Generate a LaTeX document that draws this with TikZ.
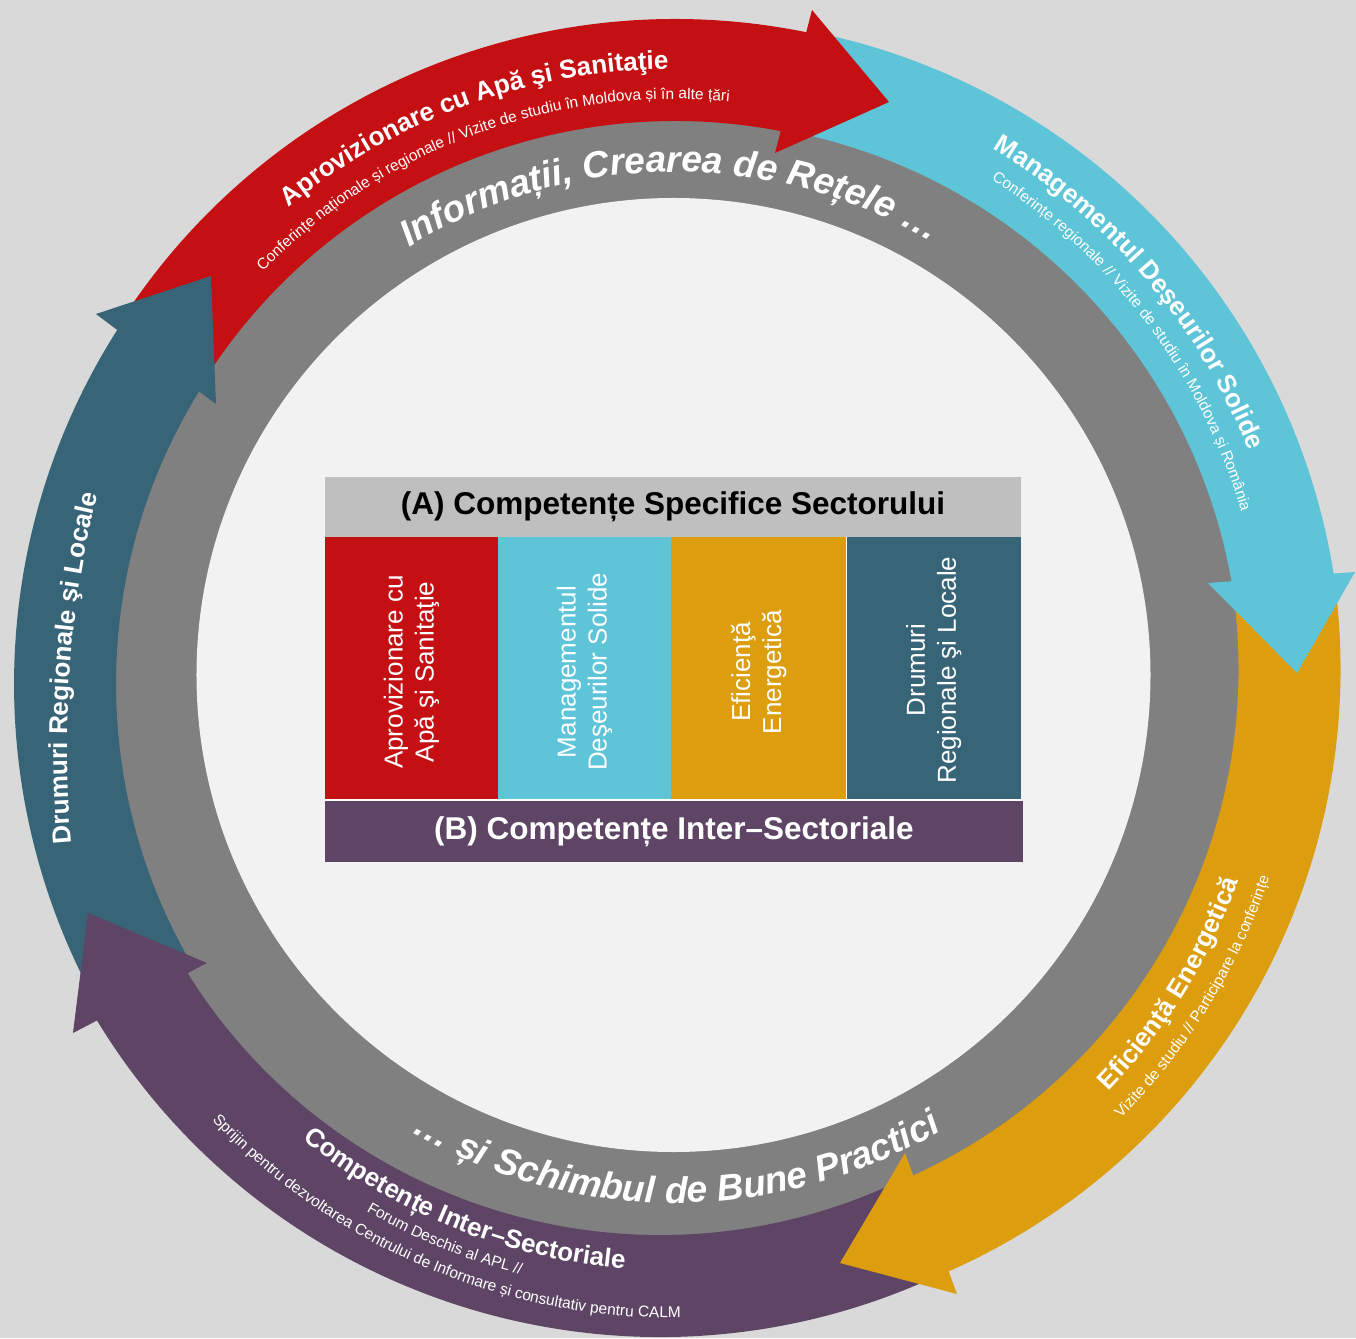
\documentclass[tikz,border=0pt]{standalone}
\usepackage{fontspec}
\setmainfont{Liberation Sans}
\usetikzlibrary{decorations.text}
\definecolor{bgc}{HTML}{D9D9D9}
\definecolor{lightc}{HTML}{F2F2F2}
\definecolor{ringc}{HTML}{808080}
\definecolor{redc}{HTML}{C41013}
\definecolor{cyanc}{HTML}{5EC4D8}
\definecolor{goldc}{HTML}{DC9E0F}
\definecolor{tealc}{HTML}{376477}
\definecolor{purc}{HTML}{5E4565}
\definecolor{hdrc}{HTML}{BFBFBF}
\newcommand\ringFont{\fontsize{37pt}{40pt}\selectfont\bfseries\itshape}
\newcommand\arcTitleFont{\fontsize{26pt}{30pt}\selectfont\bfseries}
\newcommand\arcSubFont{\fontsize{15.5pt}{18pt}\selectfont}
\tikzset{
  arctext/.style={decorate, decoration={text along path, text align=center, text color=white, text={#1}}},
  cell/.style={inner sep=0pt, outer sep=0pt},
  coltext/.style={rotate=90, align=center, text=white, font=\fontsize{26pt}{31pt}\selectfont},
  hdrfont/.style={font=\fontsize{31.5pt}{36pt}\selectfont\bfseries},
}
\begin{document}
\begin{tikzpicture}[x=1pt,y=1pt]
\useasboundingbox (-675,-660) rectangle (681,678);
\fill[bgc] (-675,-660) rectangle (681,678);
% grey ring and light disc
\fill[ringc] (2.5,-2) circle[radius=590pt];
\fill[lightc] (-1.5,3) circle[radius=477pt];
% ring texts
\path[arctext={|\ringFont|Informații, Crearea de Rețele …}] (135.6:506pt) arc[start angle=135.6,end angle=45.6,radius=506pt];
\path[arctext={|\ringFont|… și Schimbul de Bune Practici}] (225.25:525pt) arc[start angle=225.25,end angle=315.25,radius=525pt];
% table
\node[cell, fill=hdrc, minimum width=696pt, minimum height=60pt, hdrfont] (hdr) at (-2,171) {(A) Competențe Specifice Sectorului};
\node[cell, fill=redc, minimum width=173pt, minimum height=263pt] (c1) at (-263.5,9.5) {};
\node[cell, fill=cyanc, minimum width=173pt, minimum height=263pt] (c2) at (-90.5,9.5) {};
\node[cell, fill=goldc, minimum width=175.5pt, minimum height=263pt] (c3) at (83.75,9.5) {};
\node[cell, fill=tealc, minimum width=174.5pt, minimum height=263pt] (c4) at (258.75,9.5) {};
\node[cell, fill=purc, minimum width=698pt, minimum height=61pt, text=white, hdrfont] (inter) at (-1,-153.5) {(B) Competențe Inter–Sectoriale};
\draw[white, line width=1.2pt] (c3.north east) -- (c3.south east);
\draw[white, line width=1.2pt] (c1.south west) -- (c4.south east);
\node[coltext] (t1) at (-263.5,6) {Aprovizionare cu\\Apă şi Sanitaţie};
\node[coltext] (t2) at (-90.5,6) {Managementul\\Deşeurilor Solide};
\node[coltext] (t3) at (83.75,6) {Eficienţă\\Energetică};
\node[coltext] (t4) at (258.75,8) {Drumuri\\Regionale şi Locale};
% arrow shafts
\fill[redc] (146.5:659pt) arc[start angle=146.5,end angle=77.8,radius=659pt] -- (77.8:557pt) arc[start angle=77.8,end angle=146.5,radius=557pt] -- cycle;
\fill[cyanc, shift={(8,0)}] (78:659pt) arc[start angle=78,end angle=8.8,radius=659pt] -- (8.8:557pt) arc[start angle=8.8,end angle=78,radius=557pt] -- cycle;
\fill[goldc, shift={(6.5,9)}] (7:659pt) arc[start angle=7,end angle=-66.5,radius=659pt] -- (-66.5:557pt) arc[start angle=-66.5,end angle=7,radius=557pt] -- cycle;
\fill[purc, shift={(-15,0)}] (295.5:659pt) arc[start angle=295.5,end angle=210.9,radius=659pt] -- (210.9:557pt) arc[start angle=210.9,end angle=295.5,radius=557pt] -- cycle;
\fill[tealc, shift={(-2,-6)}] (209.8:659pt) arc[start angle=209.8,end angle=146.7,radius=659pt] -- (146.7:557pt) arc[start angle=146.7,end angle=209.8,radius=557pt] -- cycle;
% arrow heads
\fill[redc] (100,525) -- (137,668) -- (214,576) -- cycle;
\fill[cyanc] (533,95) -- (680,106) -- (622,5) -- cycle;
\fill[goldc] (230,-475) -- (282,-616) -- (165,-585) -- cycle;
\fill[purc] (-468,-285) -- (-602,-355) -- (-587,-235) -- cycle;
\fill[tealc] (-459,274) -- (-579,364) -- (-464,402) -- cycle;
% arrow texts
\path[arctext={|\arcTitleFont|Aprovizionare cu Apă şi Sanitaţie}] (150:609pt) arc[start angle=150,end angle=70,radius=609pt];
\path[arctext={|\arcSubFont|Conferințe naționale și regionale // Vizite de studiu în Moldova și în alte țări}] (160:579pt) arc[start angle=160,end angle=60,radius=579pt];
\path[arctext={|\arcTitleFont|Managementul Deşeurilor Solide}] (80.3:617pt) arc[start angle=80.3,end angle=0.3,radius=617pt];
\path[arctext={|\arcSubFont|Conferințe regionale // Vizite de studiu în Moldova și România}] (82:590pt) arc[start angle=82,end angle=-8,radius=590pt];
\path[arctext={|\arcTitleFont|Eficienţă Energetică}] (-72:599pt) arc[start angle=-72,end angle=8.6,radius=599pt];
\path[arctext={|\arcSubFont|Vizite de studiu // Participare la conferințe}] (-72:627pt) arc[start angle=-72,end angle=8.7,radius=627pt];
\path[arctext={|\arcTitleFont|Competențe Inter–Sectoriale}] (203:593pt) arc[start angle=203,end angle=293.2,radius=593pt];
\path[arctext={|\arcSubFont|Forum Deschis al APL //}] (202.7:616pt) arc[start angle=202.7,end angle=292.7,radius=616pt];
\path[arctext={|\arcSubFont|Sprijin pentru dezvoltarea Centrului de Informare și consultativ pentru CALM}] (197.1:640pt) arc[start angle=197.1,end angle=297.1,radius=640pt];
\path[arctext={|\arcTitleFont|Drumuri Regionale şi Locale}, shift={(460,-70)}] (195.7:1068pt) arc[start angle=195.7,end angle=155.7,radius=1068pt];
\end{tikzpicture}
\end{document}
